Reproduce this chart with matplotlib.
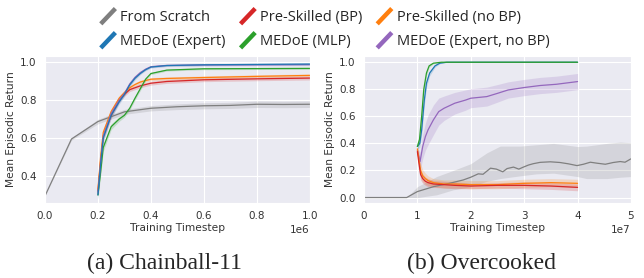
import numpy as np
import matplotlib
matplotlib.use("Agg")
import matplotlib.pyplot as plt
import seaborn as sns
from matplotlib.lines import Line2D
from matplotlib.legend_handler import HandlerBase

sns.set_style("darkgrid")
plt.rcParams['font.family'] = ['DejaVu Sans']

# ---------------- Chainball-11 (x in 1e6 steps) ----------------
cb_x_scratch = [0.0, 0.1, 0.2, 0.3, 0.4, 0.5, 0.6, 0.7, 0.8, 0.9, 1.0]
cb_scratch = [0.295, 0.595, 0.687, 0.738, 0.757, 0.765, 0.770, 0.772, 0.778, 0.777, 0.778]
cb_scratch_sd = [0.0, 0.006, 0.012, 0.013, 0.014, 0.015, 0.016, 0.016, 0.017, 0.017, 0.017]

cb_x = [0.2, 0.21, 0.22, 0.25, 0.28, 0.3, 0.32, 0.34, 0.36, 0.38, 0.4, 0.46, 0.6, 0.8, 1.0]
cb_bp = [0.32, 0.48, 0.61, 0.72, 0.80, 0.83, 0.855, 0.865, 0.875, 0.882, 0.889, 0.898, 0.907, 0.912, 0.916]
cb_bp_sd = [0.02, 0.02, 0.02, 0.015, 0.012, 0.01, 0.01, 0.01, 0.01, 0.01, 0.01, 0.01, 0.01, 0.01, 0.01]
cb_nobp = [0.33, 0.50, 0.63, 0.74, 0.81, 0.84, 0.865, 0.882, 0.895, 0.903, 0.91, 0.914, 0.919, 0.925, 0.93]
cb_nobp_sd = [0.02, 0.02, 0.02, 0.015, 0.012, 0.01, 0.01, 0.01, 0.01, 0.008, 0.008, 0.008, 0.008, 0.008, 0.008]
cb_expert = [0.30, 0.46, 0.60, 0.72, 0.79, 0.83, 0.88, 0.915, 0.94, 0.96, 0.974, 0.982, 0.986, 0.988, 0.99]
cb_expert_sd = [0.02, 0.02, 0.02, 0.015, 0.012, 0.01, 0.01, 0.008, 0.006, 0.005, 0.005, 0.005, 0.005, 0.005, 0.005]
cb_mlp = [0.30, 0.42, 0.55, 0.66, 0.70, 0.72, 0.757, 0.81, 0.86, 0.91, 0.94, 0.958, 0.965, 0.966, 0.967]
cb_mlp_sd = [0.02, 0.02, 0.02, 0.015, 0.012, 0.01, 0.01, 0.01, 0.01, 0.008, 0.006, 0.005, 0.005, 0.005, 0.005]
cb_expert_nobp = [0.31, 0.47, 0.61, 0.73, 0.80, 0.835, 0.885, 0.92, 0.945, 0.963, 0.976, 0.983, 0.985, 0.986, 0.987]
cb_expert_nobp_sd = [0.02, 0.02, 0.02, 0.015, 0.012, 0.01, 0.01, 0.008, 0.006, 0.005, 0.005, 0.005, 0.005, 0.005, 0.005]

# ---------------- Overcooked (x in 1e7 steps) ----------------
oc_x_scratch = [0.0, 0.8, 1.0, 1.3, 1.6, 1.86, 2.0, 2.14, 2.23, 2.37, 2.48, 2.6, 2.68, 2.8, 2.9,
                2.98, 3.08, 3.17, 3.3, 3.49, 3.67, 3.83, 3.99, 4.11, 4.24, 4.36, 4.52, 4.67, 4.8, 4.89, 5.0]
oc_scratch = [0.0, 0.0, 0.044, 0.08, 0.105, 0.13, 0.15, 0.175, 0.172, 0.217, 0.21, 0.19, 0.214, 0.225, 0.21,
              0.224, 0.24, 0.25, 0.26, 0.264, 0.259, 0.249, 0.236, 0.246, 0.261, 0.254, 0.246, 0.259, 0.266, 0.261, 0.286]
# confidence band of the from-scratch run (not symmetric)
oc_band_x = [0.0, 0.8, 1.0, 1.36, 1.67, 2.0, 2.3, 2.55, 2.92, 3.23, 3.55, 4.0, 4.17, 4.55, 4.8, 5.0]
oc_band_lo = [0.0, 0.0, 0.0, 0.02, 0.057, 0.08, 0.12, 0.14, 0.16, 0.175, 0.18, 0.155, 0.14, 0.14, 0.15, 0.155]
oc_band_hi = [0.0, 0.0, 0.08, 0.155, 0.2, 0.25, 0.33, 0.38, 0.38, 0.39, 0.40, 0.377, 0.38, 0.40, 0.41, 0.405]

oc_x_expert = [1.0, 1.045, 1.08, 1.13, 1.17, 1.23, 1.33, 1.42, 1.55, 2.0, 3.0, 4.0]
oc_expert = [0.377, 0.40, 0.50, 0.72, 0.845, 0.92, 0.973, 0.993, 1.0, 1.0, 1.0, 1.0]
oc_expert_sd = [0.02, 0.03, 0.04, 0.04, 0.03, 0.02, 0.01, 0.004, 0.0, 0.0, 0.0, 0.0]

oc_x_mlp = [1.0, 1.04, 1.08, 1.12, 1.17, 1.22, 1.3, 1.45, 2.0, 3.0, 4.0]
oc_mlp = [0.377, 0.43, 0.60, 0.80, 0.92, 0.973, 0.993, 1.0, 1.0, 1.0, 1.0]
oc_mlp_sd = [0.02, 0.03, 0.04, 0.03, 0.02, 0.01, 0.004, 0.0, 0.0, 0.0, 0.0]

oc_x_expert_nobp = [1.0, 1.05, 1.1, 1.15, 1.2, 1.3, 1.4, 1.5, 1.7, 1.9, 2.0, 2.3, 2.5, 2.7, 3.0, 3.3, 3.6, 4.0]
oc_expert_nobp = [0.35, 0.266, 0.377, 0.45, 0.50, 0.574, 0.635, 0.66, 0.697, 0.72, 0.734, 0.746, 0.77,
                  0.795, 0.813, 0.828, 0.837, 0.857]
oc_expert_nobp_sd = [0.03, 0.07, 0.09, 0.1, 0.11, 0.11, 0.1, 0.09, 0.08, 0.075, 0.07, 0.07, 0.065,
                     0.06, 0.06, 0.06, 0.06, 0.06]

oc_x_pre = [1.0, 1.03, 1.06, 1.1, 1.15, 1.2, 1.3, 1.5, 1.7, 2.0, 2.5, 3.0, 3.5, 4.0]
oc_bp = [0.34, 0.25, 0.17, 0.14, 0.12, 0.11, 0.10, 0.095, 0.09, 0.085, 0.09, 0.09, 0.085, 0.075]
oc_bp_sd = [0.02, 0.04, 0.04, 0.035, 0.03, 0.03, 0.025, 0.025, 0.025, 0.02, 0.02, 0.025, 0.025, 0.025]
oc_nobp = [0.36, 0.28, 0.20, 0.16, 0.14, 0.125, 0.11, 0.10, 0.10, 0.095, 0.095, 0.105, 0.11, 0.105]
oc_nobp_sd = [0.02, 0.05, 0.05, 0.045, 0.04, 0.035, 0.03, 0.03, 0.03, 0.03, 0.03, 0.03, 0.03, 0.03]

labels = ['From Scratch', 'Pre-Skilled (BP)', 'Pre-Skilled (no BP)',
          'MEDoE (Expert)', 'MEDoE (MLP)', 'MEDoE (Expert, no BP)']
colors = ['#7f7f7f', '#d62728', '#ff7f0e', '#1f77b4', '#2ca02c', '#9467bd']


def draw(ax, x, y, sd, color, scale):
    x = np.array(x) * scale
    y = np.array(y)
    sd = np.array(sd)
    ax.fill_between(x, y - sd, y + sd, color=color, alpha=0.2, lw=0)
    ax.plot(x, y, color=color, lw=0.9)


fig = plt.figure(figsize=(6.44, 2.78), dpi=100)
ax1 = fig.add_axes([0.0699, 0.270, 0.411, 0.529])
ax2 = fig.add_axes([0.5652, 0.270, 0.4145, 0.529])

# Chainball
draw(ax1, cb_x_scratch, cb_scratch, cb_scratch_sd, colors[0], 1e6)
draw(ax1, cb_x, cb_bp, cb_bp_sd, colors[1], 1e6)
draw(ax1, cb_x, cb_nobp, cb_nobp_sd, colors[2], 1e6)
draw(ax1, cb_x, cb_mlp, cb_mlp_sd, colors[4], 1e6)
draw(ax1, cb_x, cb_expert_nobp, cb_expert_nobp_sd, colors[5], 1e6)
draw(ax1, cb_x, cb_expert, cb_expert_sd, colors[3], 1e6)
ax1.set_xlim(0, 1e6)
ax1.set_ylim(0.258, 1.033)
ax1.set_yticks([0.4, 0.6, 0.8, 1.0])

# Overcooked
ax2.fill_between(np.array(oc_band_x) * 1e7, oc_band_lo, oc_band_hi,
                 color=colors[0], alpha=0.2, lw=0)
ax2.plot(np.array(oc_x_scratch) * 1e7, oc_scratch, color=colors[0], lw=0.9)
draw(ax2, oc_x_expert_nobp, oc_expert_nobp, oc_expert_nobp_sd, colors[5], 1e7)
draw(ax2, oc_x_pre, oc_nobp, oc_nobp_sd, colors[2], 1e7)
draw(ax2, oc_x_pre, oc_bp, oc_bp_sd, colors[1], 1e7)
draw(ax2, oc_x_expert, oc_expert, oc_expert_sd, colors[3], 1e7)
draw(ax2, oc_x_mlp, oc_mlp, oc_mlp_sd, colors[4], 1e7)
ax2.set_xlim(0, 5e7)
ax2.set_ylim(-0.04, 1.047)
ax2.set_yticks([0.0, 0.2, 0.4, 0.6, 0.8, 1.0])

for ax in (ax1, ax2):
    ax.set_xlabel('Training Timestep', fontsize=7.7, color='#333333', labelpad=1)
    ax.set_ylabel('Mean Episodic Return', fontsize=7.7, color='#333333', labelpad=3)
    ax.tick_params(labelsize=7.5, colors='#333333', pad=2.5)
    ax.xaxis.get_offset_text().set_fontsize(7.5)
    ax.xaxis.get_offset_text().set_color('#333333')

fig.text(0.255, 0.054, '(a) Chainball-11', ha='center', va='center',
         fontsize=17, family='Liberation Serif')
fig.text(0.748, 0.054, '(b) Overcooked', ha='center', va='center',
         fontsize=17, family='Liberation Serif')


class DiagHandler(HandlerBase):
    def create_artists(self, legend, orig_handle, xdescent, ydescent,
                       width, height, fontsize, trans):
        x0, y0 = -xdescent, -ydescent - 0.3 * height
        line = Line2D([x0, x0 + width], [y0, y0 + 1.5 * height],
                      color=orig_handle.get_color(), lw=3.2,
                      solid_capstyle='butt', transform=trans)
        return [line]


handles = [Line2D([], [], color=c) for c in colors]
order = [0, 3, 1, 4, 2, 5]
fig.legend([handles[i] for i in order], [labels[i] for i in order],
           handler_map={Line2D: DiagHandler()},
           loc='upper center', bbox_to_anchor=(0.505, 1.012), ncol=3, frameon=False,
           prop={'family': 'Open Sans', 'size': 10.5},
           handlelength=1.0, handletextpad=0.35, columnspacing=1.0,
           labelspacing=0.62)

fig.savefig('out.png', dpi=100)
